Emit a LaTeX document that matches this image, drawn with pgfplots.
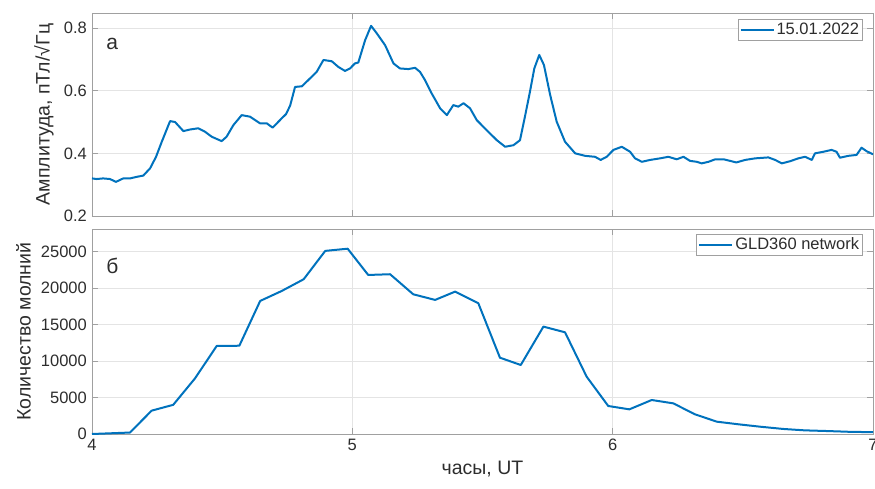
\documentclass[border=0pt]{standalone}
\usepackage{fontspec}
\setmainfont{Liberation Sans}
\usepackage{pgfplots}
\pgfplotsset{compat=1.18}

\definecolor{mblue}{RGB}{0,114,189}
\definecolor{frame}{RGB}{160,160,160}
\definecolor{gridc}{RGB}{228,228,228}
\definecolor{txt}{RGB}{45,45,45}

\pgfplotsset{
  panel/.style={
    scale only axis,
    width=781pt,
    xmin=4, xmax=7,
    xtick={4,5,6,7},
    grid=major,
    major grid style={gridc, line width=0.6pt},
    axis line style={frame, line width=0.8pt},
    tick style={frame, line width=0.8pt},
    major tick length=6pt,
    tick align=inside,
    tick label style={txt, font=\fontsize{16.5}{19}\selectfont},
    label style={txt, font=\fontsize{19.5}{22}\selectfont},
    /pgf/number format/assume math mode=true,
    /pgf/number format/1000 sep={},
    scaled y ticks=false,
    legend cell align=left,
    legend style={draw=frame, fill=white, line width=0.8pt, inner sep=1.5pt,
      font=\fontsize{16.5}{18}\selectfont, text=txt,
      at={(0.9872,0.97)}, anchor=north east},
    legend image code/.code={\draw[#1] (0pt,0pt) -- (33pt,0pt);},
  },
  curve/.style={mblue, line width=2pt, line join=round},
}

\begin{document}
\fontsize{15}{18}\selectfont
\begin{tikzpicture}
\useasboundingbox (-92pt,-54pt) rectangle (783pt,434pt);

% upper panel: amplitude
\begin{axis}[panel, at={(0pt,218pt)}, anchor=south west, height=203pt,
  ymin=0.2, ymax=0.848,
  ytick={0.2,0.4,0.6,0.8},
  yticklabel style={/pgf/number format/fixed, /pgf/number format/precision=1},
  xticklabels={},
  ylabel={Амплитуда, пТл/√Гц},
  legend style={at={(0.9872,0.97)}}]
\addplot[curve] coordinates {
(4.000,0.320) (4.018,0.318) (4.043,0.320) (4.069,0.318) (4.092,0.309)
(4.120,0.320) (4.146,0.320) (4.172,0.325) (4.197,0.329) (4.223,0.352)
(4.246,0.389) (4.268,0.437) (4.300,0.503) (4.319,0.500) (4.351,0.471)
(4.376,0.476) (4.408,0.480) (4.434,0.469) (4.460,0.453) (4.498,0.439)
(4.517,0.453) (4.543,0.490) (4.575,0.522) (4.607,0.517) (4.645,0.496)
(4.671,0.496) (4.694,0.482) (4.729,0.512) (4.745,0.525) (4.761,0.552)
(4.780,0.612) (4.806,0.614) (4.831,0.634) (4.863,0.660) (4.889,0.698)
(4.921,0.694) (4.946,0.676) (4.972,0.663) (4.991,0.671) (5.010,0.687)
(5.023,0.690) (5.049,0.761) (5.072,0.807) (5.094,0.783) (5.126,0.745)
(5.158,0.687) (5.183,0.671) (5.215,0.669) (5.241,0.673) (5.260,0.660)
(5.279,0.634) (5.305,0.591) (5.337,0.544) (5.363,0.522) (5.388,0.554)
(5.407,0.549) (5.427,0.560) (5.452,0.544) (5.478,0.506) (5.516,0.474)
(5.555,0.442) (5.587,0.421) (5.619,0.426) (5.644,0.442) (5.663,0.517)
(5.683,0.600) (5.699,0.671) (5.718,0.714) (5.736,0.682) (5.760,0.586)
(5.785,0.501) (5.817,0.437) (5.856,0.400) (5.894,0.392) (5.932,0.389)
(5.954,0.379) (5.977,0.389) (6.003,0.411) (6.035,0.421) (6.067,0.405)
(6.086,0.384) (6.112,0.373) (6.144,0.379) (6.182,0.384) (6.214,0.389)
(6.246,0.381) (6.272,0.389) (6.297,0.376) (6.323,0.373) (6.342,0.368)
(6.368,0.373) (6.394,0.381) (6.426,0.381) (6.451,0.376) (6.475,0.371)
(6.509,0.379) (6.547,0.384) (6.598,0.387) (6.624,0.379) (6.650,0.368)
(6.682,0.375) (6.713,0.384) (6.739,0.389) (6.765,0.379) (6.777,0.400)
(6.809,0.405) (6.841,0.411) (6.860,0.405) (6.873,0.386) (6.905,0.392)
(6.937,0.395) (6.956,0.418) (6.975,0.407) (7.000,0.397)
};
\addlegendentry{15.01.2022}
\node[anchor=base west, inner sep=0pt, txt, font=\fontsize{21}{24}\selectfont]
  at (rel axis cs:0.018,0.818) {а};
\end{axis}

% lower panel: lightning count
\begin{axis}[panel, at={(0pt,0pt)}, anchor=south west, height=205pt,
  ymin=0, ymax=28100,
  ytick={0,5000,10000,15000,20000,25000},
  xlabel={часы, UT},
  ylabel={Количество молний},
  legend style={at={(0.9872,0.976)}}]
\addplot[curve] coordinates {
(4.000,0) (4.146,200) (4.229,3200) (4.312,4000) (4.396,7640)
(4.479,12070) (4.566,12100) (4.646,18240) (4.729,19610) (4.813,21210)
(4.896,25100) (4.982,25400) (5.061,21800) (5.145,21900) (5.234,19150)
(5.318,18380) (5.395,19520) (5.484,17920) (5.567,10460) (5.647,9460)
(5.734,14720) (5.817,13940) (5.900,7860) (5.983,3840) (6.064,3380)
(6.150,4660) (6.233,4200) (6.316,2700) (6.400,1690) (6.483,1330)
(6.567,1000) (6.656,690) (6.738,500) (6.830,400) (6.910,300)
(7.000,250)
};
\addlegendentry{GLD360 network}
\node[anchor=base west, inner sep=0pt, txt, font=\fontsize{21}{24}\selectfont]
  at (rel axis cs:0.018,0.785) {б};
\end{axis}
\end{tikzpicture}
\end{document}
